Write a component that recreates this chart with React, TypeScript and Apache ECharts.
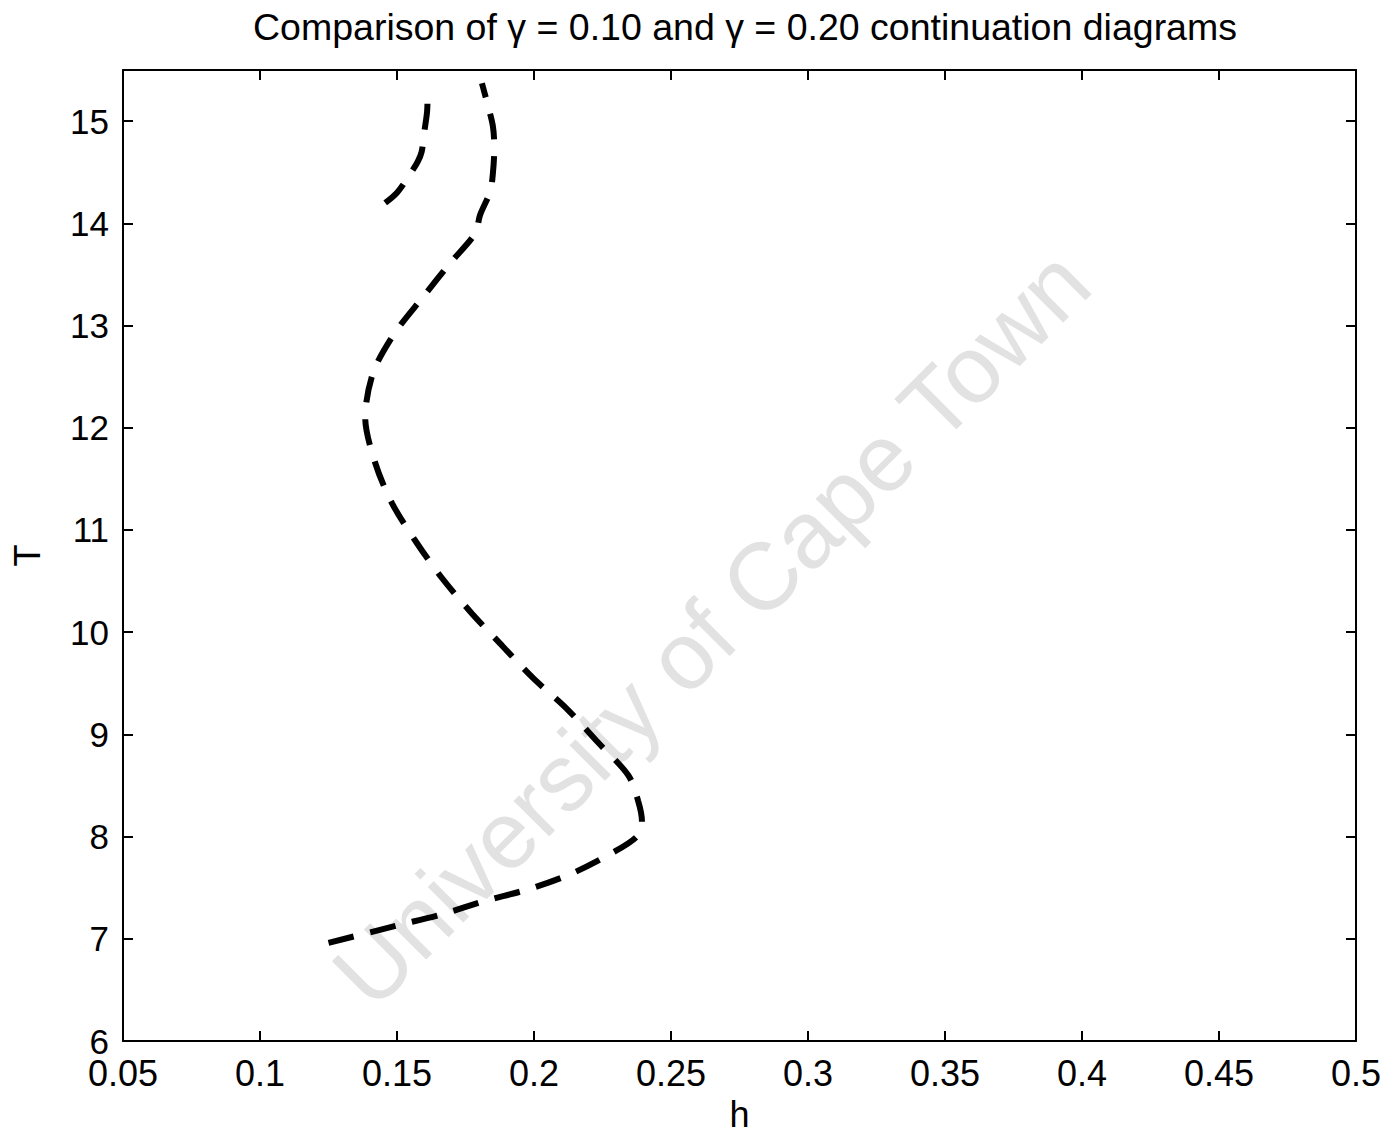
import React, { useEffect, useRef } from "react";
import * as echarts from "echarts";

const titleText = "Comparison of γ = 0.10 and γ = 0.20 continuation diagrams";
const xName = "h";
const yName = "T";
const watermark = "University of Cape Town";

// long branch: [h, T]
const longBranchH = [0.125, 0.150, 0.1664, 0.182, 0.1986, 0.2139, 0.2285, 0.2375, 0.2394, 0.238, 0.2344, 0.2234, 0.212, 0.1997, 0.1883, 0.1774, 0.1664, 0.1573, 0.1482, 0.142, 0.1384, 0.1413, 0.149, 0.1595, 0.1697, 0.1785, 0.1803, 0.184, 0.185, 0.1855, 0.185, 0.1828, 0.181];
const longBranchT = [6.96, 7.13, 7.24, 7.37, 7.49, 7.64, 7.84, 8.0, 8.15, 8.35, 8.6, 8.92, 9.25, 9.55, 9.87, 10.18, 10.53, 10.87, 11.26, 11.66, 12.1, 12.54, 12.92, 13.28, 13.62, 13.9, 14.08, 14.31, 14.49, 14.73, 14.95, 15.19, 15.37];

// short branch: [h, T]
const shortBranchH = [0.1457, 0.150, 0.154, 0.1575, 0.159, 0.160, 0.161, 0.1612];
const shortBranchT = [14.2, 14.3, 14.45, 14.6, 14.7, 14.9, 15.1, 15.33];

const xMin = 0.05, xMax = 0.5, xStep = 0.05;
const yMin = 6, yMax = 15.5, yStep = 1;

const FONT = "'Liberation Sans', Arial, Helvetica, sans-serif";

export default function App() {
  const ref = useRef<HTMLDivElement>(null);
  useEffect(() => {
    if (!ref.current) return;
    const chart = echarts.init(ref.current, null, { renderer: "svg" });
    const zip = (a: number[], b: number[]) => a.map((v, i) => [v, b[i]]);
    const fmtX = (v: number) => {
      const s = v.toFixed(2);
      return s.replace(/0+$/, "").replace(/\.$/, "");
    };
    const common = {
      axisLine: { show: true, lineStyle: { color: "#000", width: 2 } },
      axisTick: { show: true, inside: true, length: 10, lineStyle: { color: "#000", width: 2 } },
      splitLine: { show: false },
    };
    chart.setOption({
      animation: false,
      backgroundColor: "#fff",
      title: {
        text: titleText,
        left: 740,
        textAlign: "center",
        top: 3,
        textStyle: { fontFamily: FONT, fontSize: 37.5, fontWeight: "normal", color: "#000" },
      },
      grid: {
        left: 123,
        right: 29,
        top: 70,
        bottom: 94,
        containLabel: false,
        outerBoundsMode: "none",
      },
      graphic: [
        {
          type: "text",
          x: 711,
          y: 628,
          rotation: Math.PI / 4,
          z: -10,
          silent: true,
          style: {
            text: watermark,
            fontFamily: FONT,
            fontSize: 95,
            fill: "#e2e2e2",
            textAlign: "center",
            textVerticalAlign: "middle",
            align: "center",
            verticalAlign: "middle",
          },
        },
      ],
      xAxis: [
        {
          type: "value",
          min: xMin,
          max: xMax,
          interval: xStep,
          name: xName,
          nameLocation: "middle",
          nameGap: 59,
          nameTextStyle: { fontFamily: FONT, fontSize: 36, lineHeight: 28, color: "#000" },
          axisLabel: {
            fontFamily: FONT,
            fontSize: 36,
            lineHeight: 30,
            color: "#000",
            margin: 17,
            formatter: fmtX,
          },
          ...common,
        },
        {
          type: "value",
          position: "top",
          min: xMin,
          max: xMax,
          interval: xStep,
          axisLabel: { show: false },
          ...common,
        },
      ],
      yAxis: [
        {
          type: "value",
          min: yMin,
          max: yMax,
          interval: yStep,
          name: yName,
          nameLocation: "middle",
          nameGap: 78,
          nameTextStyle: { fontFamily: FONT, fontSize: 36, color: "#000" },
          axisLabel: {
            fontFamily: FONT,
            fontSize: 35,
            lineHeight: 26,
            color: "#000",
            margin: 14,
            showMaxLabel: false,
            formatter: (v: number) => (Number.isInteger(v) ? String(v) : ""),
          },
          ...common,
        },
        {
          type: "value",
          position: "right",
          min: yMin,
          max: yMax,
          interval: yStep,
          axisLabel: { show: false },
          ...common,
        },
      ],
      series: [
        {
          name: "long branch",
          type: "line",
          data: zip(longBranchH, longBranchT),
          showSymbol: false,
          smooth: 0.3,
          z: 5,
          lineStyle: { color: "#000", width: 6, type: [26, 17], cap: "butt" },
        },
        {
          name: "short branch",
          type: "line",
          data: zip(shortBranchH, shortBranchT),
          showSymbol: false,
          smooth: 0.3,
          z: 5,
          lineStyle: { color: "#000", width: 6, type: [26, 17], cap: "butt" },
        },
      ],
    });
    return () => chart.dispose();
  }, []);
  return (
    <div
      ref={ref}
      style={{ position: "fixed", left: 0, top: 0, width: 1385, height: 1135, background: "#fff" }}
    />
  );
}
